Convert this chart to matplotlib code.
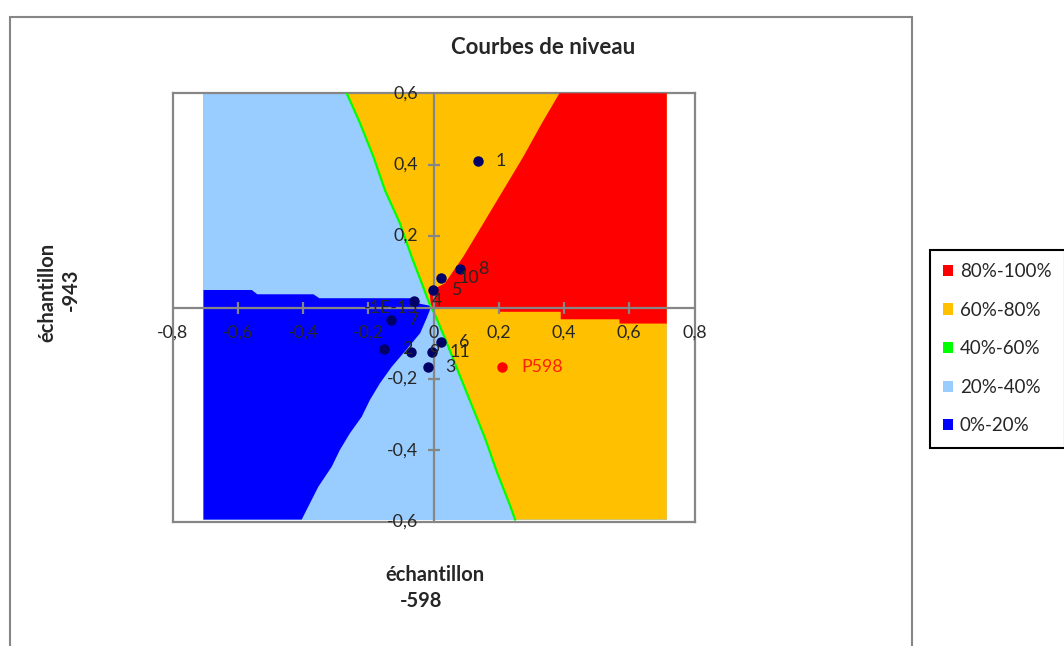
import matplotlib
matplotlib.use("Agg")
import matplotlib.pyplot as plt
from matplotlib.patches import Rectangle, Patch, Polygon

plt.rcParams['font.family'] = ['Lato', 'DejaVu Sans']

# points (échantillons)
pt_labels = ['1', '2', '3', '4', '5', '6', '7', '8', '9', '10', '11']
pt_x = [0.135, -0.152, -0.018, -0.060, -0.003, 0.023, -0.131, 0.081, -0.070, 0.022, -0.006]
pt_y = [0.410, -0.117, -0.168, 0.018, 0.049, -0.097, -0.035, 0.108, -0.125, 0.083, -0.125]
p598_x, p598_y = 0.211, -0.166

# contour boundaries
fill_x = (-0.705, 0.715)
fill_y = (-0.594, 0.6)
green_x = [-0.266, -0.225, -0.184, -0.149, -0.103, -0.067, -0.036, -0.013, 0.005,
           0.035, 0.076, 0.117, 0.158, 0.194, 0.234, 0.25]
green_y = [0.6, 0.516, 0.422, 0.329, 0.236, 0.142, 0.068, 0.012, -0.021,
           -0.086, -0.18, -0.273, -0.366, -0.46, -0.553, -0.594]
red_top_x = [-0.008, -0.012, 0.035, 0.091, 0.153, 0.214, 0.275, 0.332, 0.386]
red_top_y = [0.005, 0.045, 0.068, 0.142, 0.236, 0.329, 0.422, 0.516, 0.6]
red_bot_x = [0.715, 0.57, 0.57, 0.39, 0.39, 0.2, 0.2, 0.0]
red_bot_y = [-0.045, -0.045, -0.033, -0.033, -0.012, -0.012, 0.0, 0.0]
dblue_top_x = [-0.705, -0.557, -0.54, -0.368, -0.35, -0.062, -0.05, -0.011]
dblue_top_y = [0.049, 0.049, 0.037, 0.037, 0.026, 0.026, 0.012, 0.005]
dblue_bot_x = [-0.011, -0.021, -0.041, -0.085, -0.128, -0.164, -0.195, -0.22,
               -0.256, -0.287, -0.312, -0.353, -0.404]
dblue_bot_y = [-0.007, -0.03, -0.072, -0.12, -0.166, -0.212, -0.259, -0.306,
               -0.352, -0.399, -0.446, -0.502, -0.594]

x_ticks = [-0.6, -0.4, -0.2, 0.2, 0.4, 0.6]
x_ticklabels = ['-0,8', '-0,6', '-0,4', '-0,2', '0', '0,2', '0,4', '0,6', '0,8']
x_tickvals = [-0.8, -0.6, -0.4, -0.2, 0, 0.2, 0.4, 0.6, 0.8]
y_ticks = [-0.4, -0.2, 0.2, 0.4]
y_tickvals = [0.6, 0.4, 0.2, 0, -0.2, -0.4, -0.6]
y_ticklabels = ['0,6', '0,4', '0,2', '-1E-15', '-0,2', '-0,4', '-0,6']

levels = ['80%-100%', '60%-80%', '40%-60%', '20%-40%', '0%-20%']
colors = ['#FF0000', '#FFC000', '#00FF00', '#99CCFF', '#0000FF']

gray = '#868686'
txt = '#262626'
fs = 12.8

fig = plt.figure(figsize=(10.64, 6.46), dpi=100)
ax = fig.add_axes([172.5 / 1064, (646 - 521.7) / 646, 522 / 1064, 428.4 / 646])
ax.set_xlim(-0.8, 0.8)
ax.set_ylim(-0.6, 0.6)
ax.set_xticks([])
ax.set_yticks([])
for s in ax.spines.values():
    s.set_color(gray)
    s.set_linewidth(1.6)

# filled bands
ax.add_patch(Rectangle((fill_x[0], fill_y[0]), fill_x[1] - fill_x[0], fill_y[1] - fill_y[0],
                       facecolor=colors[3], edgecolor='none', zorder=1))
yel = list(zip(green_x, green_y)) + [(fill_x[1], fill_y[0]), (fill_x[1], fill_y[1])]
ax.add_patch(Polygon(yel, facecolor=colors[1], edgecolor='none', zorder=2))
red = list(zip(red_top_x, red_top_y)) + [(fill_x[1], fill_y[1])] + list(zip(red_bot_x, red_bot_y))
ax.add_patch(Polygon(red, facecolor=colors[0], edgecolor='none', zorder=3))
dbl = list(zip(dblue_top_x, dblue_top_y)) + list(zip(dblue_bot_x, dblue_bot_y)) + [(fill_x[0], fill_y[0])]
ax.add_patch(Polygon(dbl, facecolor=colors[4], edgecolor='none', zorder=3))
ax.plot(green_x, green_y, color=colors[2], lw=1.6, zorder=4)

# axes through the origin
ax.axhline(0, color=gray, lw=1.6, zorder=5)
ax.axvline(0, color=gray, lw=1.6, zorder=5)
ax.plot(x_ticks, [0] * len(x_ticks), ls='none', marker='|', ms=8, mew=1.6, color=gray, zorder=5)
ax.plot([0] * len(y_ticks), y_ticks, ls='none', marker='_', ms=8, mew=1.6, color=gray, zorder=5)

for v, lab in zip(x_tickvals, x_ticklabels):
    ax.annotate(lab, (v, 0), xytext=(0, -18), textcoords='offset points',
                ha='center', va='center', fontsize=fs, color=txt, zorder=6,
                annotation_clip=False)
for v, lab in zip(y_tickvals, y_ticklabels):
    ax.annotate(lab, (0, v), xytext=(-11, 0), textcoords='offset points',
                ha='right', va='center', fontsize=fs, color=txt, zorder=6,
                annotation_clip=False)

# points
ax.plot(pt_x, pt_y, ls='none', marker='o', ms=6.5, color='#000066', zorder=7)
for x, y, lab in zip(pt_x, pt_y, pt_labels):
    ax.annotate(lab, (x, y), xytext=(13, 0), textcoords='offset points',
                ha='left', va='center', fontsize=fs, color=txt, zorder=8)
ax.plot([p598_x], [p598_y], ls='none', marker='o', ms=6.5, color='#FF0000', zorder=7)
ax.annotate('P598', (p598_x, p598_y), xytext=(14, 0), textcoords='offset points',
            ha='left', va='center', fontsize=fs, color='#FF2000', zorder=8)

# titles
fig.text(543 / 1064, 1 - 47 / 646, 'Courbes de niveau', ha='center', va='center',
         fontsize=16, fontweight='bold', color=txt)
fig.text(435 / 1064, 1 - 575 / 646, 'échantillon', ha='center', va='center',
         fontsize=14.5, fontweight='bold', color=txt)
fig.text(421 / 1064, 1 - 601 / 646, '-598', ha='center', va='center',
         fontsize=14.5, fontweight='bold', color=txt)
fig.text(47 / 1064, 1 - 292 / 646, 'échantillon', ha='center', va='center', rotation=90,
         fontsize=14.5, fontweight='bold', color=txt)
fig.text(71 / 1064, 1 - 290 / 646, '-943', ha='center', va='center', rotation=90,
         fontsize=14.5, fontweight='bold', color=txt)

# outer chart border
fig.add_artist(Rectangle((10 / 1064, -0.1), (912 - 10) / 1064, 1 - 17 / 646 + 0.1,
                         transform=fig.transFigure, fill=False, edgecolor=gray, lw=1.5))

handles = [Patch(facecolor=c, edgecolor='none') for c in colors]
leg = fig.legend(handles, levels, loc='upper left', bbox_to_anchor=(930 / 1064, 1 - 250 / 646),
                 frameon=True, fancybox=False, edgecolor='black', framealpha=1,
                 handlelength=0.55, handleheight=0.55, handletextpad=0.35,
                 labelspacing=1.15, borderpad=0.7, borderaxespad=0, fontsize=13.5)
leg.get_frame().set_linewidth(1.5)
for t in leg.get_texts():
    t.set_color(txt)

fig.savefig('out.png', dpi=100)
